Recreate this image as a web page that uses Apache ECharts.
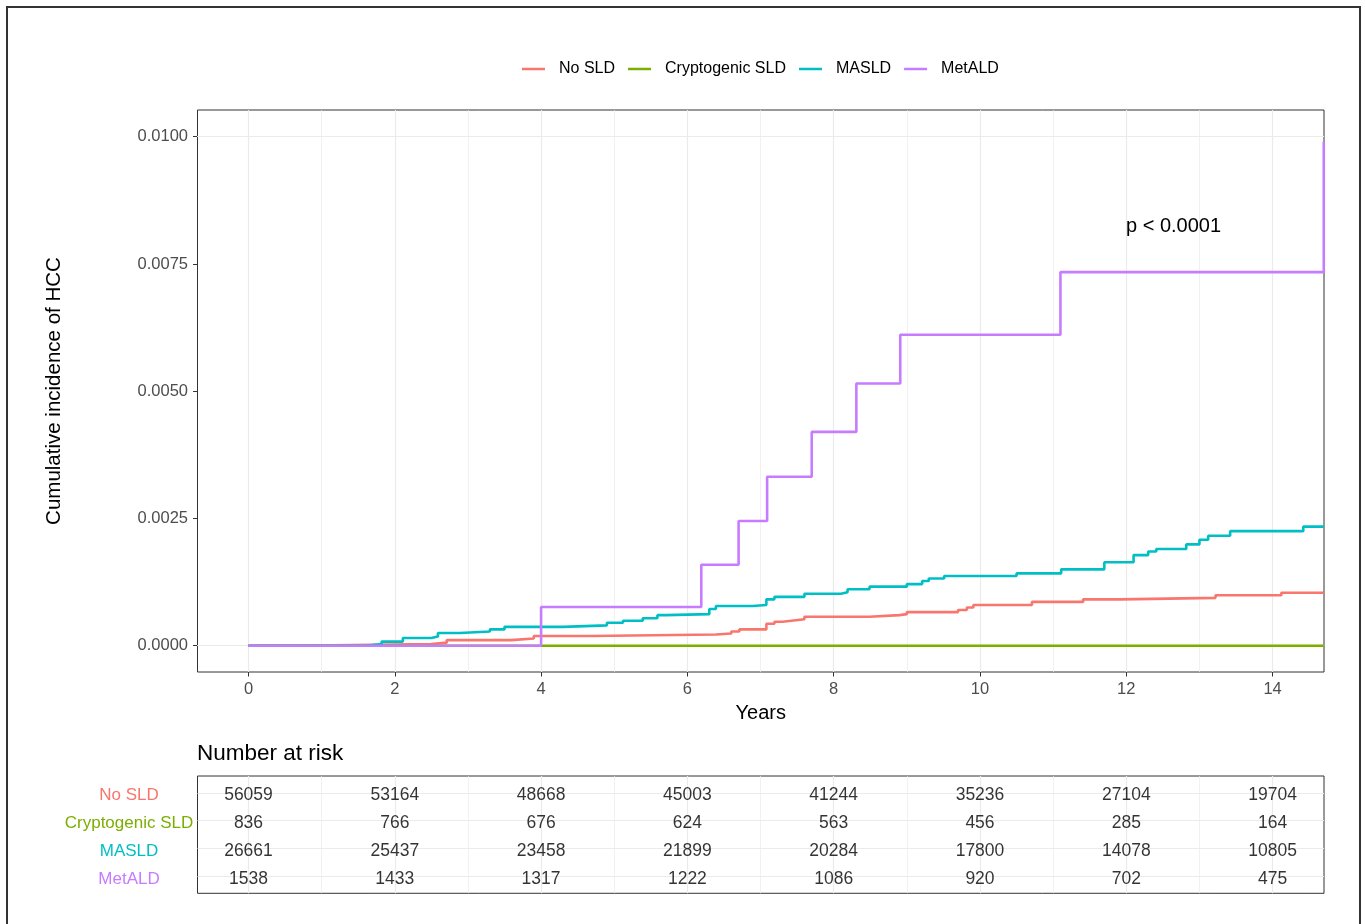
<!DOCTYPE html>
<html><head><meta charset="utf-8">
<script src="https://cdn.jsdelivr.net/npm/echarts@6/dist/echarts.min.js"></script>
<style>html,body{margin:0;padding:0;background:#fff}#c{width:1365px;height:924px}</style>
</head><body><div id="c"></div>
<script>
const groups = ['No SLD', 'Cryptogenic SLD', 'MASLD', 'MetALD'];
const colors = ['#F8766D', '#7CAE00', '#00BFC4', '#C77CFF'];

const noSldT = [0, 0.61, 2.50, 2.71, 3.59, 3.90, 4.69, 6.39, 6.60, 6.71, 7.08, 7.19, 7.30, 7.42, 7.60, 8.49, 8.90, 9.00, 9.70, 9.82, 9.91, 10.71, 11.41, 11.92, 13.22, 14.12, 14.70];
const noSldV = [0, 0.00003, 0.00006, 0.00011, 0.00014, 0.00019, 0.00022, 0.00024, 0.00028, 0.00032, 0.00043, 0.00047, 0.00049, 0.00052, 0.00057, 0.00060, 0.00062, 0.00066, 0.00070, 0.00075, 0.00080, 0.00086, 0.00091, 0.00094, 0.00099, 0.00104, 0.00104];

const cryptoT = [0, 14.70];
const cryptoV = [0, 0];

const masldT = [0, 1.60, 1.82, 2.11, 2.50, 2.59, 2.89, 3.30, 3.50, 4.30, 4.90, 5.12, 5.39, 5.59, 5.71, 6.30, 6.39, 6.89, 7.08, 7.19, 7.60, 8.10, 8.19, 8.49, 9.00, 9.21, 9.30, 9.51, 10.50, 11.11, 11.70, 12.10, 12.30, 12.41, 12.82, 13.00, 13.12, 13.42, 14.42, 14.70];
const masldV = [0, 0.00003, 0.00008, 0.00015, 0.00018, 0.00025, 0.00028, 0.00032, 0.00037, 0.00040, 0.00045, 0.00049, 0.00054, 0.00060, 0.00062, 0.00072, 0.00078, 0.00080, 0.00091, 0.00096, 0.00102, 0.00105, 0.00111, 0.00116, 0.00121, 0.00127, 0.00132, 0.00137, 0.00142, 0.00150, 0.00164, 0.00178, 0.00185, 0.00190, 0.00199, 0.00208, 0.00216, 0.00225, 0.00234, 0.00234];

const metaldT = [0, 4.00, 6.19, 6.70, 7.09, 7.70, 8.31, 8.91, 11.10, 14.70];
const metaldV = [0, 0.00076, 0.00159, 0.00245, 0.00332, 0.00420, 0.00515, 0.00611, 0.00734, 0.00990];

const xTicks = [0, 2, 4, 6, 8, 10, 12, 14];
const yTicks = [0, 0.0025, 0.0050, 0.0075, 0.0100];

const riskTimes = [0, 2, 4, 6, 8, 10, 12, 14];
const riskNoSLD = [56059, 53164, 48668, 45003, 41244, 35236, 27104, 19704];
const riskCrypto = [836, 766, 676, 624, 563, 456, 285, 164];
const riskMASLD = [26661, 25437, 23458, 21899, 20284, 17800, 14078, 10805];
const riskMetALD = [1538, 1433, 1317, 1222, 1086, 920, 702, 475];

const FONT = "'Liberation Sans', Arial, Helvetica, sans-serif";
const GRID = '#EBEBEB';

const xMinor = xTicks.slice(1).map((v, i) => (v + xTicks[i]) / 2);
const yMinor = yTicks.slice(1).map((v, i) => (v + yTicks[i]) / 2);

function stepSeries(i, T, V) {
  return {
    type: 'line', name: groups[i], xAxisIndex: 0, yAxisIndex: 0,
    step: 'end', showSymbol: false, symbol: 'none', z: 3 + i,
    data: T.map((t, k) => [t, V[k]]),
    lineStyle: { width: 2.6, color: colors[i] },
    itemStyle: { color: colors[i] },
    animation: false
  };
}

const riskRows = [riskNoSLD, riskCrypto, riskMASLD, riskMetALD];
const riskData = [];
riskRows.forEach((row, r) => row.forEach((n, k) => riskData.push([riskTimes[k], r + 1, n])));

const mainGridLines = [].concat(
  xMinor.map(v => ({ xAxis: v, lineStyle: { width: 0.7, color: GRID, type: 'solid' } })),
  yMinor.map(v => ({ yAxis: v, lineStyle: { width: 0.7, color: GRID, type: 'solid' } })),
  xTicks.map(v => ({ xAxis: v, lineStyle: { width: 1.2, color: GRID, type: 'solid' } })),
  yTicks.map(v => ({ yAxis: v, lineStyle: { width: 1.2, color: GRID, type: 'solid' } }))
);
const tableGridLines = [].concat(
  xMinor.map(v => ({ xAxis: v, lineStyle: { width: 0.7, color: GRID, type: 'solid' } })),
  xTicks.map(v => ({ xAxis: v, lineStyle: { width: 1.2, color: GRID, type: 'solid' } })),
  [1, 2, 3, 4].map(v => ({ yAxis: v, lineStyle: { width: 1.2, color: GRID, type: 'solid' } }))
);

const rich = {};
groups.forEach((g, i) => { rich['g' + i] = { color: colors[i], fontSize: 17, fontFamily: FONT, padding: [5, 0, 0, 0] }; });

const chart = echarts.init(document.getElementById('c'), null, { renderer: 'canvas' });
chart.setOption({
  backgroundColor: '#fff',
  animation: false,
  textStyle: { fontFamily: FONT },
  title: {
    text: 'Number at risk', left: 197, top: 742, padding: 0,
    textStyle: { fontSize: 22.5, fontWeight: 'normal', color: '#000', fontFamily: FONT }
  },
  legend: {
    data: groups, left: 522, top: 61, padding: 0, icon: 'rect',
    itemWidth: 23, itemHeight: 2.5, itemGap: 13,
    textStyle: { fontSize: 16, color: '#000', fontFamily: FONT, padding: [0, 0, 0, 9] }
  },
  grid: [
    { left: 197.5, top: 110, width: 1126.5, height: 562, show: true, borderColor: '#333', borderWidth: 1, backgroundColor: 'transparent', containLabel: false },
    { left: 197.5, top: 776, width: 1126.5, height: 117.3, show: true, borderColor: '#333', borderWidth: 1, backgroundColor: 'transparent', containLabel: false }
  ],
  xAxis: [
    {
      type: 'value', gridIndex: 0, min: -0.697, max: 14.703,
      name: 'Years', nameLocation: 'middle', nameGap: 31,
      nameTextStyle: { fontSize: 20, color: '#000', fontFamily: FONT },
      axisLine: { show: false, onZero: false },
      axisTick: { show: true, length: 4.5, lineStyle: { color: '#333', width: 1 }, customValues: xTicks },
      axisLabel: { customValues: xTicks, fontSize: 16.5, color: '#4D4D4D', margin: 8.5, fontFamily: FONT },
      splitLine: { show: false }
    },
    {
      type: 'value', gridIndex: 1, min: -0.697, max: 14.703, show: false,
      axisLine: { onZero: false }, splitLine: { show: false }
    }
  ],
  yAxis: [
    {
      type: 'value', gridIndex: 0, min: -0.000517, max: 0.010525,
      name: 'Cumulative incidence of HCC', nameLocation: 'middle', nameGap: 133, nameRotate: 90,
      nameTextStyle: { fontSize: 20.5, color: '#000', fontFamily: FONT },
      axisLine: { show: false, onZero: false },
      axisTick: { show: true, length: 4.5, lineStyle: { color: '#333', width: 1 }, customValues: yTicks },
      axisLabel: { customValues: yTicks, fontSize: 16.5, color: '#4D4D4D', margin: 9.5, fontFamily: FONT,
        formatter: v => Number(v).toFixed(4) },
      splitLine: { show: false }
    },
    {
      type: 'value', gridIndex: 1, min: 0.4, max: 4.6, inverse: true,
      axisLine: { show: false, onZero: false }, axisTick: { show: false },
      splitLine: { show: false },
      axisLabel: {
        customValues: [1, 2, 3, 4], align: 'center', margin: 68.5,
        formatter: v => '{g' + (Math.round(v) - 1) + '|' + groups[Math.round(v) - 1] + '}',
        rich: rich
      }
    }
  ],
  graphic: [
    { type: 'rect', silent: true, z: 100, shape: { x: 7, y: 7, width: 1353, height: 940 },
      style: { fill: 'none', stroke: '#333', lineWidth: 2 } },
    { type: 'text', silent: true, z: 100, x: 1126, y: 226,
      style: { text: 'p < 0.0001', fontSize: 20, fontFamily: FONT, fill: '#000', textVerticalAlign: 'middle', textAlign: 'left' } }
  ],
  series: [
    { type: 'line', name: '_grid0', xAxisIndex: 0, yAxisIndex: 0, data: [], z: 1, silent: true,
      markLine: { z: 1, silent: true, symbol: ['none', 'none'], label: { show: false }, animation: false, data: mainGridLines } },
    { type: 'line', name: '_grid1', xAxisIndex: 1, yAxisIndex: 1, data: [], z: 1, silent: true,
      markLine: { z: 1, silent: true, symbol: ['none', 'none'], label: { show: false }, animation: false, data: tableGridLines } },
    stepSeries(0, noSldT, noSldV),
    stepSeries(1, cryptoT, cryptoV),
    stepSeries(2, masldT, masldV),
    stepSeries(3, metaldT, metaldV),
    {
      type: 'scatter', name: '_risk', xAxisIndex: 1, yAxisIndex: 1, symbolSize: 0, z: 5,
      data: riskData,
      label: { show: true, position: 'inside', offset: [0, 2.5], color: '#000', fontSize: 17.5, fontFamily: FONT,
        formatter: p => String(p.value[2]) },
      itemStyle: { color: 'transparent' },
      animation: false
    }
  ]
});
</script>
</body></html>
